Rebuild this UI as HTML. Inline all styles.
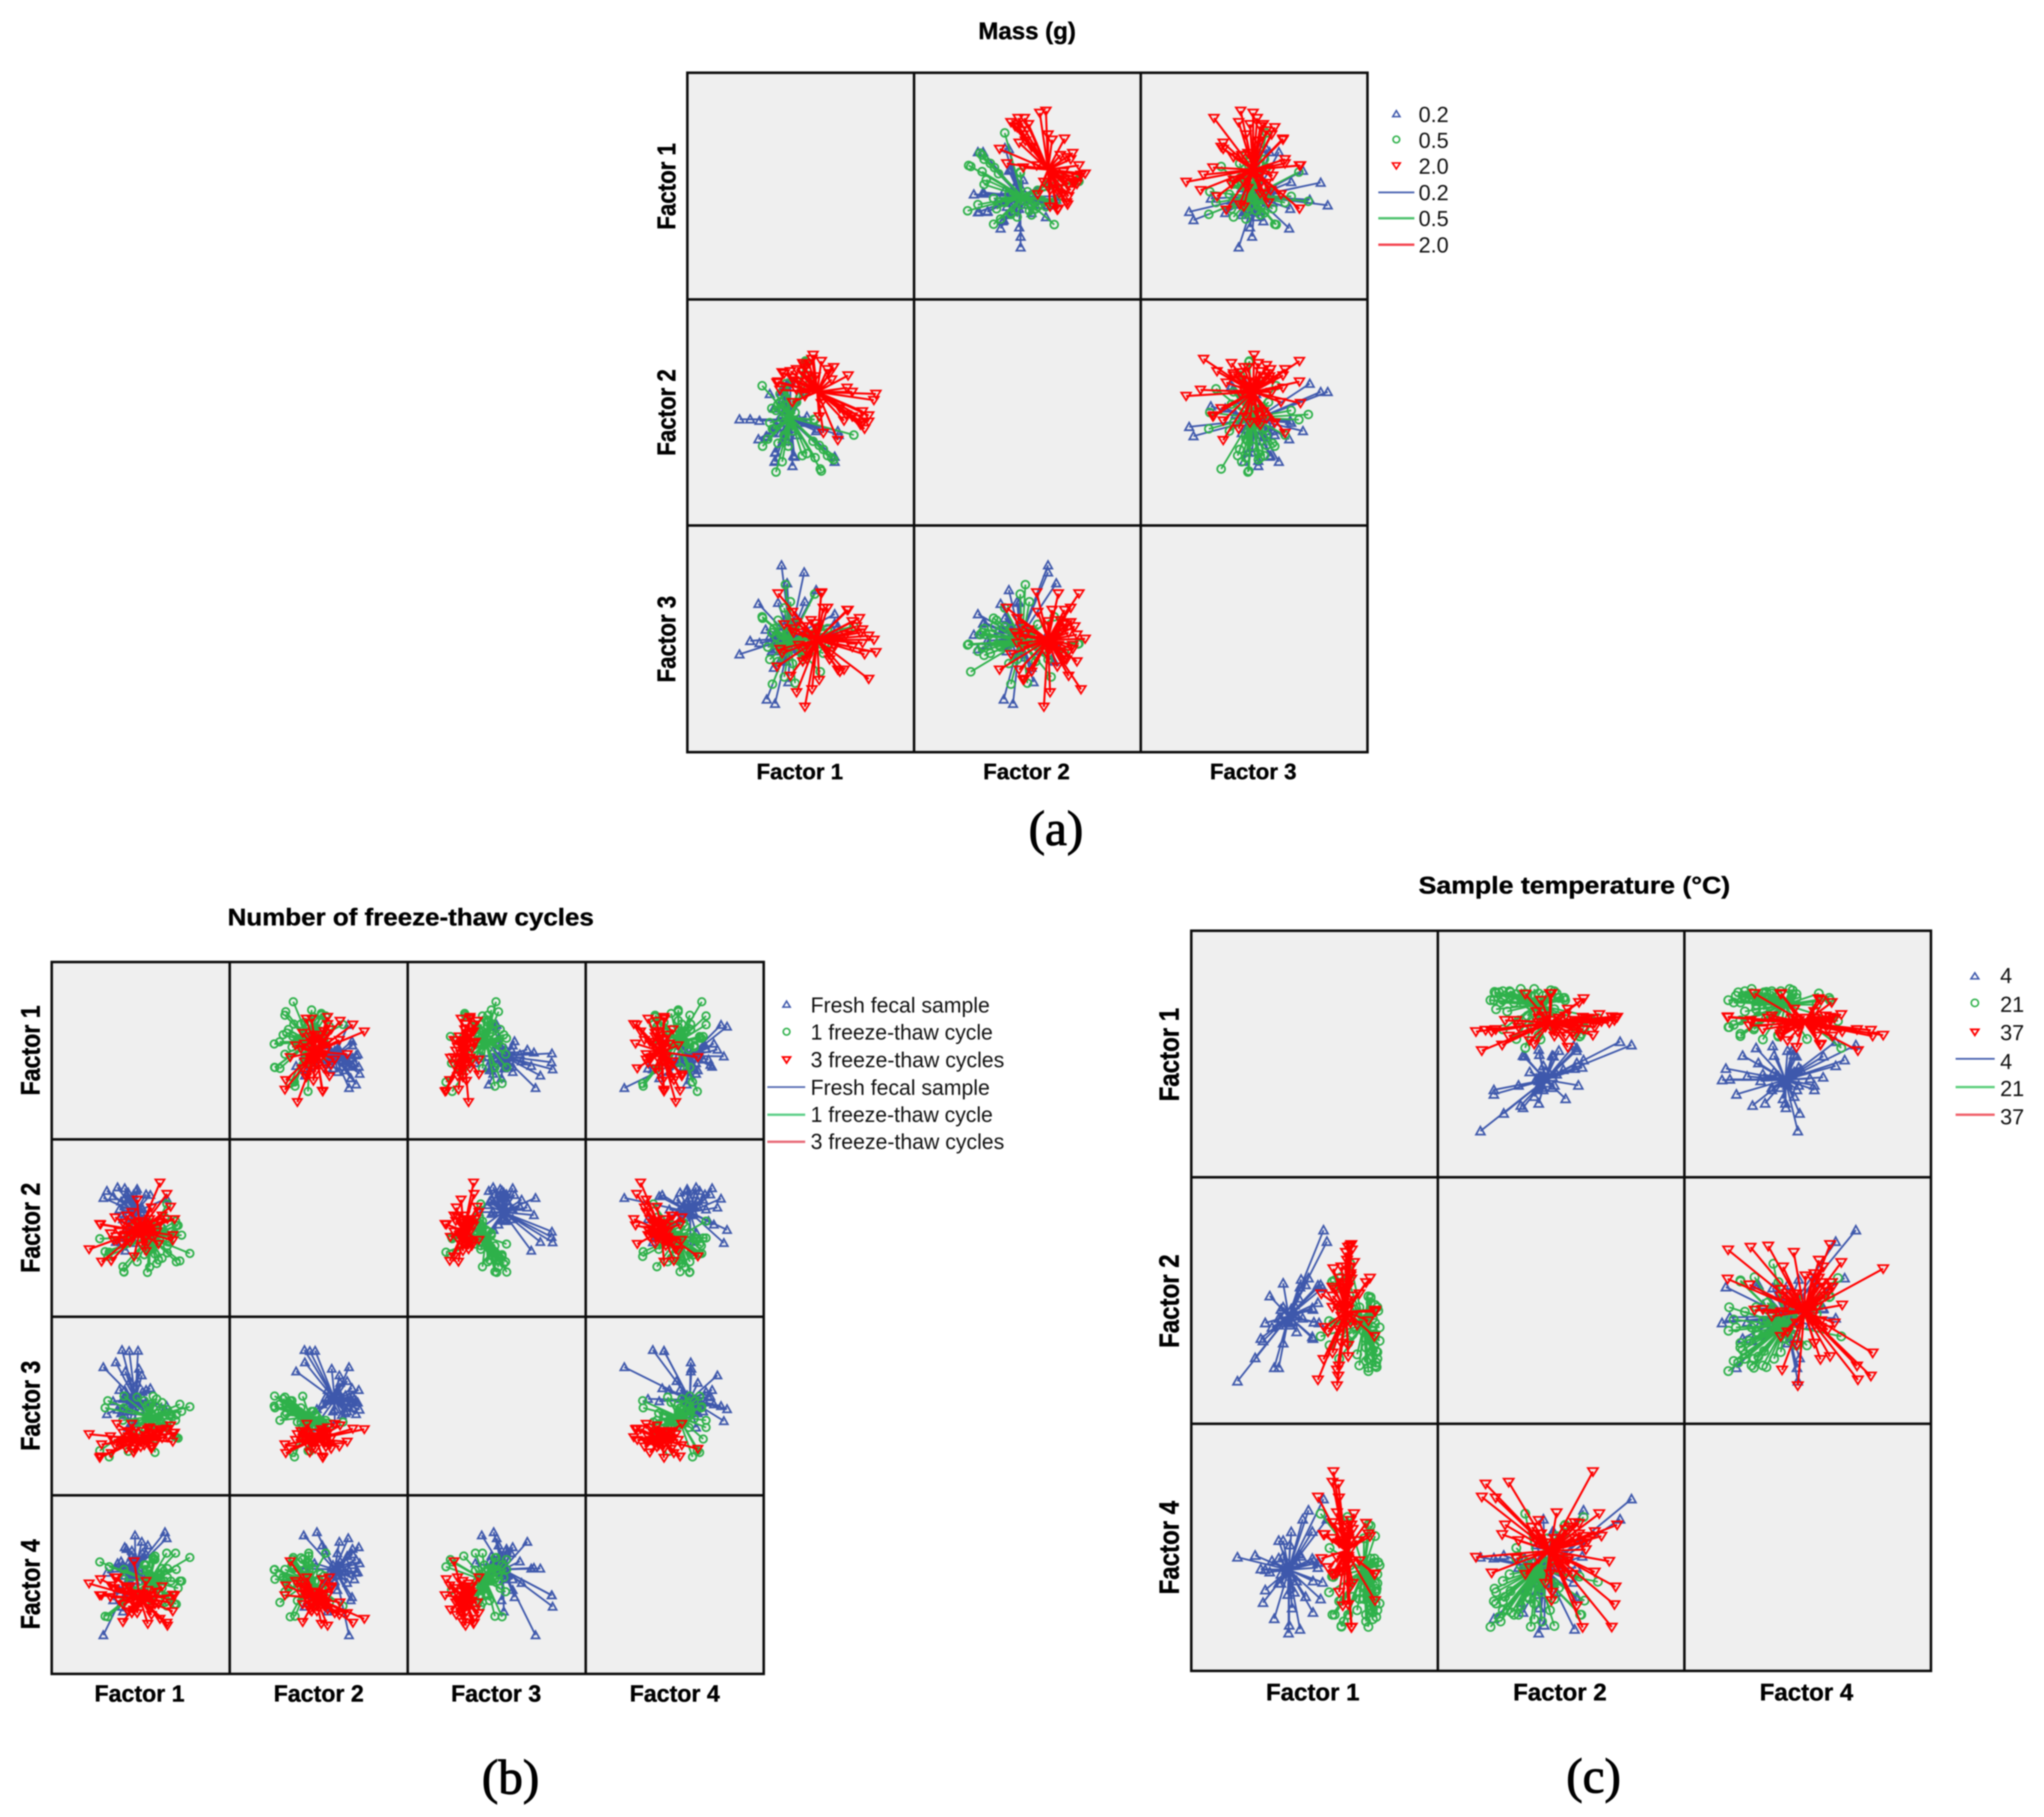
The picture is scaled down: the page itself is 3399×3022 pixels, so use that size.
<!DOCTYPE html>
<html lang="en">
<head>
<meta charset="utf-8">
<title>Factor score scatter matrices</title>
<style>
html,body{margin:0;padding:0;background:#fff;}
svg{display:block;filter:blur(1px);}
text{font-family:"Liberation Sans",sans-serif;fill:#000;}
.t{font-weight:bold;font-size:40px;text-anchor:middle;stroke:#000;stroke-width:.6px;}
.ax{font-weight:bold;text-anchor:middle;stroke:#000;stroke-width:.6px;}
.lg{font-size:36px;fill:#111;}
.cap{font-family:"Liberation Serif",serif;font-size:82px;text-anchor:middle;stroke:#000;stroke-width:1.6px;}
</style>
</head>
<body>
<svg id="figure" xmlns="http://www.w3.org/2000/svg" width="3399" height="3022" viewBox="0 0 3399 3022">
<rect width="3399" height="3022" fill="#fff"/>
<g id="panelA"></g>
<g id="panelB"></g>
<g id="panelC"></g>

<text class="t" x="1708" y="65">Mass (g)</text>
<text class="t" x="683" y="1539" textLength="609" lengthAdjust="spacingAndGlyphs">Number of freeze-thaw cycles</text>
<text class="t" x="2618" y="1486" textLength="518" lengthAdjust="spacingAndGlyphs">Sample temperature (°C)</text>

<g style="font-size:37px">
<text class="ax" x="1330" y="1296">Factor 1</text>
<text class="ax" x="1707" y="1296">Factor 2</text>
<text class="ax" x="2084" y="1296">Factor 3</text>
</g>
<g style="font-size:37px">
<text class="ax" transform="translate(1123,310) rotate(-90) scale(1,1.15)">Factor 1</text>
<text class="ax" transform="translate(1123,686) rotate(-90) scale(1,1.15)">Factor 2</text>
<text class="ax" transform="translate(1123,1063) rotate(-90) scale(1,1.15)">Factor 3</text>
</g>

<g style="font-size:38.5px">
<text class="ax" x="232" y="2830">Factor 1</text>
<text class="ax" x="530" y="2830">Factor 2</text>
<text class="ax" x="825" y="2830">Factor 3</text>
<text class="ax" x="1122" y="2830">Factor 4</text>
</g>
<g style="font-size:38.5px">
<text class="ax" transform="translate(66,1747) rotate(-90) scale(1,1.15)">Factor 1</text>
<text class="ax" transform="translate(66,2042) rotate(-90) scale(1,1.15)">Factor 2</text>
<text class="ax" transform="translate(66,2338) rotate(-90) scale(1,1.15)">Factor 3</text>
<text class="ax" transform="translate(66,2635) rotate(-90) scale(1,1.15)">Factor 4</text>
</g>

<g style="font-size:40px">
<text class="ax" x="2183" y="2828">Factor 1</text>
<text class="ax" x="2594" y="2828">Factor 2</text>
<text class="ax" x="3004" y="2828">Factor 4</text>
</g>
<g style="font-size:40px">
<text class="ax" transform="translate(1960,1754) rotate(-90) scale(1,1.15)">Factor 1</text>
<text class="ax" transform="translate(1960,2164) rotate(-90) scale(1,1.15)">Factor 2</text>
<text class="ax" transform="translate(1960,2574) rotate(-90) scale(1,1.15)">Factor 4</text>
</g>

<g>
<text class="lg" x="2359" y="203">0.2</text>
<text class="lg" x="2359" y="246">0.5</text>
<text class="lg" x="2359" y="289">2.0</text>
<text class="lg" x="2359" y="333">0.2</text>
<text class="lg" x="2359" y="376">0.5</text>
<text class="lg" x="2359" y="420">2.0</text>
<path d="M2322 184l6 10h-12z" fill="none" stroke="#3e58ac" stroke-width="2.6"/>
<circle cx="2322" cy="232" r="5.5" fill="none" stroke="#2eb14a" stroke-width="2.6"/>
<path d="M2322 281l-6.500 -10h13z" fill="none" stroke="#f00" stroke-width="2.600"/>
<line x1="2292" x2="2352" y1="320" y2="320" stroke="#4a63b0" stroke-width="3"/>
<line x1="2292" x2="2352" y1="363" y2="363" stroke="#4fc36e" stroke-width="4"/>
<line x1="2292" x2="2352" y1="407" y2="407" stroke="#f4454f" stroke-width="4"/>
</g>

<g>
<text class="lg" x="1348" y="1684" textLength="298" lengthAdjust="spacingAndGlyphs">Fresh fecal sample</text>
<text class="lg" x="1348" y="1729" textLength="303" lengthAdjust="spacingAndGlyphs">1 freeze-thaw cycle</text>
<text class="lg" x="1348" y="1775" textLength="322" lengthAdjust="spacingAndGlyphs">3 freeze-thaw cycles</text>
<text class="lg" x="1348" y="1821" textLength="298" lengthAdjust="spacingAndGlyphs">Fresh fecal sample</text>
<text class="lg" x="1348" y="1866" textLength="303" lengthAdjust="spacingAndGlyphs">1 freeze-thaw cycle</text>
<text class="lg" x="1348" y="1911" textLength="322" lengthAdjust="spacingAndGlyphs">3 freeze-thaw cycles</text>
<path d="M1308 1665l6 10h-12z" fill="none" stroke="#3e58ac" stroke-width="2.6"/>
<circle cx="1308" cy="1716" r="5.5" fill="none" stroke="#2eb14a" stroke-width="2.6"/>
<path d="M1308 1768l-6.500 -10h13z" fill="none" stroke="#f00" stroke-width="3"/>
<line x1="1276" x2="1339" y1="1808" y2="1808" stroke="#5a6fb5" stroke-width="3"/>
<line x1="1276" x2="1339" y1="1854" y2="1854" stroke="#5fd08a" stroke-width="4"/>
<line x1="1276" x2="1339" y1="1899" y2="1899" stroke="#e86a78" stroke-width="4"/>
</g>

<g>
<text class="lg" x="3326" y="1635">4</text>
<text class="lg" x="3326" y="1683">21</text>
<text class="lg" x="3326" y="1730">37</text>
<text class="lg" x="3326" y="1778">4</text>
<text class="lg" x="3326" y="1823">21</text>
<text class="lg" x="3326" y="1870">37</text>
<path d="M3284 1618l6.500 10h-13z" fill="none" stroke="#3e58ac" stroke-width="2.6"/>
<circle cx="3284" cy="1668" r="6" fill="none" stroke="#2eb14a" stroke-width="2.6"/>
<path d="M3284 1722l-6.500 -10h13z" fill="none" stroke="#f00" stroke-width="3"/>
<line x1="3252" x2="3317" y1="1761" y2="1761" stroke="#4a63b0" stroke-width="3"/>
<line x1="3252" x2="3317" y1="1808" y2="1808" stroke="#5fd07e" stroke-width="4"/>
<line x1="3252" x2="3317" y1="1854" y2="1854" stroke="#f0606a" stroke-width="4"/>
</g>

<text class="cap" x="1756" y="1405">(a)</text>
<text class="cap" x="849" y="2983">(b)</text>
<text class="cap" x="2650" y="2981">(c)</text>
</svg>

<script>
// Mass (g): factor scores per sample, columns Factor 1, Factor 2, Factor 3
const massBlue=[[-2.97,-.33,-.75],[-2.45,-.33,-.1],[-2.05,-1.3,1.7],[-1.7,-1.2,.45],[-1.65,-1.15,-2.94],[-1.25,-.7,-3.15],[-.93,1,3.57],[.17,1,3.23],[-.66,1.4,2.7],[.75,-.9,2.37],[1.65,-2.4,1.2],[1.65,-2.15,.75],[1.85,-1.09,.3],[-2,-.4,-.2],[-1.25,-2.35,.2],[-1.25,-1.95,-.1],[-.4,-2.6,.2],[-.3,-2.15,.75],[.8,-.8,.2],[1.8,-.9,.6],[-.5,1.55,-.5],[-.9,1.17,-1],[-1.22,-1.93,-.3],[-1.27,-2.4,-.5],[-.36,-2.1,.8],[-.6,.3,-2.1],[.2,-.5,1.8],[-.8,-.9,.9],[-1.1,-.4,1.75],[-.2,-1.1,1],[-.9,.6,-.6],[-1.3,.2,-1.4],[.3,-.2,.4],[-1.5,.9,.1],[-.7,1.3,-1.1],[-1,-1,-.3],[-.8,-.5,.6],[-.3,-.8,-.4],[-1.2,-.6,.3],[-.6,-1.4,.4],[-1.4,-1,-.6],[-.9,-.1,-.9],[-.1,-.3,-.6]];
const massGreen=[[2.58,-1.1,.6],[-1.87,1.3,1.07],[.23,2.5,-.23],[.95,-2.75,-1.6],[1,-2.85,-.26],[.68,-.35,2.17],[-1.85,-1.64,1],[-.74,-.1,2.63],[-1.37,-.8,-2.2],[-.27,0,-2.15],[-.8,1.15,-1.85],[-1.2,-2.9,-.3],[-.9,-2.4,-.6],[.3,2.46,-.25],[.7,-2.2,.3],[.64,-.34,0],[.3,-2,.2],[-.6,-1.64,-.1],[.08,-2.1,-.8],[-1.5,-.5,-1],[-1.1,.4,-1.1],[-.2,.5,.7],[-1.3,-.8,.5],[-.8,-1.1,1.5],[-1,.9,-.5],[-.4,-.9,-1.2],[-1.4,.2,.3],[.1,1,-1],[-.7,1.4,.2],[.4,1.8,-.67],[-.5,.1,1.8],[-1.6,-1.3,-.4],[-1.1,-1.5,.9],[1.6,-2.3,.2],[1.5,-2.2,-.4],[1.3,-2.1,.5],[1.1,-1.8,-.7],[.9,-1.6,.6],[.6,-1.4,-.3],[-.9,.2,.4],[-1,.5,-.2],[-.7,.7,-.6],[-1.2,.1,.1],[-.9,-.3,-.5],[-.6,-.4,.3]];
const massRed=[[3.65,.9,-.65],[3.55,.6,-.05],[3.3,-.15,-1.95],[3.3,-.45,.15],[3.1,-.8,-.75],[3,.05,.45],[2.85,-.5,1],[2.3,1.8,1.4],[2.1,-.4,-1.5],[1.8,-1.35,-1.5],[1.3,2.1,1.5],[1,2.5,2.2],[.55,2.6,-2.45],[.6,2.8,0],[.2,.8,-3.3],[.15,2.3,.6],[-.35,1.55,.3],[-1.1,1.5,2.2],[-.2,1.1,-2.6],[1,.45,2.25],[-.9,1.95,-.7],[-1.15,1.45,-1.35],[-.8,1.9,.7],[1.4,1.9,-1],[2.5,1,.85],[2.25,1.2,1.4],[1.5,1.6,-.6],[1.9,.2,-1.6],[1.1,-1,1.5],[.9,-.2,-2],[-.4,.5,1.3],[.1,2.4,-1.1],[1.6,2.2,-.3],[-1,1.1,-.5],[.7,1.75,.75],[-.5,2,-1.8],[.2,2.2,-.5],[.1,2,.3],[-.2,2.1,.8],[.3,1.8,-1],[-.4,1.7,.5],[.4,2.4,.2],[-.1,1.5,-.3],[.5,1.6,.9],[3,-.5,-.2],[2.9,-.6,.3],[2.7,-.3,.6],[2.5,-.2,-.4],[2.2,-.1,.2]];
const massCentroids=[[-.5,-.35,.05],[-.5,-.25,-.1],[.8,1,-.05]];

// Number of freeze-thaw cycles: columns Factor 1, Factor 2, Factor 3, Factor 4
const freezeBlue=[[-2.1,1.7,2.18,-2.83],[1.36,-.1,-.17,2.94],[1.46,1.66,0,2.6],[-.32,-.84,-.84,2.76],[-1.05,-.8,3.14,-1.23],[-.65,-.5,3.08,-.6],[-.15,-.2,3.1,-.6],[-1.4,-.78,2.45,.9],[-.86,-1.27,1.94,.9],[-.1,.73,2.09,.94],[.54,1.87,1,-.7],[-1.55,1.8,.27,-.87],[-1.9,2.1,-.45,.67],[-.26,2.1,.3,1.4],[-.8,1.9,.55,2],[.1,1.05,.8,1.76],[.06,1.16,1.72,2.4],[-.7,-.24,-1.2,1.2],[-.3,.9,-1,.2],[-1,.5,.4,-1.5],[-.4,1.5,.6,.7],[-1,.8,-.3,1.1],[.3,.5,.9,.3],[-.9,1.3,-.5,.5],[-.2,1.2,1.3,1.3],[.4,.2,.1,2.2],[-1.2,1.05,.9,-.3],[-.6,1.6,1.4,.1],[.3,1.9,.2,1.7],[-.5,.4,.5,1.9],[-1.3,2.3,-.2,1.2],[-.9,2.25,.9,2.1],[-.7,2,.4,.3],[-.4,1.9,-.1,1.1],[-.9,1.7,.5,.8],[-.2,2.2,.2,.7],[-.5,1.6,-.3,1.6],[-1.1,1.5,-.4,1.3],[-.4,1.2,.4,1],[0,.9,-.2,.8],[-.6,.6,.3,.6],[.1,1.1,.5,.5]];
const freezeGreen=[[2.76,-1.43,-.04,1.52],[-.95,-2.46,-.1,.3],[2.2,-1.85,.1,.2],[2,.15,-1.76,-1.1],[-1.85,-1.6,.3,-1.8],[-1.77,-1.36,-2.85,1],[-2.3,-.6,-2.5,1.27],[.38,-2.5,0,.83],[-.94,-2.48,.56,.85],[1.47,1.36,-.9,-1.2],[1.96,.39,-.8,1.76],[.7,-.9,.55,1.4],[1.7,-.2,-.45,.2],[1.36,.6,-1.2,-1],[1.9,-.3,-1.7,-1.1],[-.7,-.5,-2.54,-.3],[.8,-.56,-1.85,1.6],[1.46,-.56,-1.2,1.76],[.8,-1.46,-2.6,1.4],[2,-1.9,-.5,.85],[-1,-2.18,-.8,-1],[2.3,-.4,-.3,.2],[2.1,.15,-1.8,-.2],[-2,-1.33,-.1,-1.77],[.5,.3,-1,.5],[.9,-.8,-.8,-.3],[1.2,-.3,-.3,.9],[.1,-.9,-1.2,.8],[-.3,.2,-.9,-.6],[.6,-1.2,-.4,-.9],[1.5,-1,-.9,.4],[1,-.1,-.6,-.5],[.3,-.5,-.7,1.1],[.9,-2,.4,.4],[1.2,-1.7,.2,-.2],[.5,-2.2,.1,.6],[.2,-1.5,.3,1.1],[-.2,-1.9,.5,-.4],[1.5,-1.4,-.2,.9],[.7,-1,-.1,1.5],[1,-1.8,-.4,.3],[.4,-1.2,-.9,.1],[.8,-.5,-1,.4],[1.3,-.2,-1.1,.2],[.1,0,-1.2,-.4],[.6,.2,-1.1,-.2],[1.6,-.8,-.5,-.6],[1.1,.1,-.8,.6],[.7,-.3,-.9,-.1]];
const freezeRed=[[-2.9,-1.2,-1.58,.06],[-2.3,.23,-2.9,-.6],[1.08,2.56,-1.3,-1.92],[1.47,1.92,-1.27,-2.14],[1.9,.5,-1.5,-.6],[-1.34,-.67,-1,.4],[-2.2,-1.9,-2.15,-.6],[.6,1.16,-2.27,-1.7],[1.8,-.7,-1.5,-.57],[1.8,-.4,-2,-1.5],[-.37,-1.6,-2.4,1.3],[.4,.15,-1.3,-2.2],[1.5,.5,-1.75,-2.3],[-.5,.9,-1,-1.6],[-1.66,-1.85,-2.64,-.05],[-1,-.9,-1.9,-2.1],[-2.26,.2,-2.83,.3],[-1.44,.6,-2.2,.4],[.6,-.2,-2.4,-.6],[1.68,1.2,-1.09,-1],[.3,-1.3,-1.9,.2],[-.6,-.8,-1.4,-.1],[.8,-.4,-2.1,-1.1],[-.2,1.6,-2,-1.6],[1.2,.7,-1.8,-.1],[-1,.3,-1.5,-1.1],[-.4,-.5,-2.6,-1.4],[.5,.5,-1.2,-1.4],[-1.7,-.3,-1.7,-.7],[.1,-1,-1.4,-.5],[-.8,.7,-2.4,-.2],[1,-.9,-1.6,-1.1],[-.5,-.4,-1.9,-.9],[.3,-.1,-1.7,-.6],[-.2,.3,-2,-1.2],[.7,.2,-1.6,-.8],[-.9,-.5,-2,-.4],[.2,-.6,-2.2,-.9],[-.4,.1,-1.5,-.5],[.5,-.3,-1.9,-1.3],[-1.2,-.2,-2.1,-.9],[1.1,.3,-1.4,-.9],[-.7,-.1,-1.7,-1.5],[0,.4,-2.3,-1],[.4,-.8,-1.8,-.3],[-.1,-.3,-1.8,-.6],[-1.5,-.7,-1.9,-.2],[.9,-.2,-1.5,-.4]];
const freezeCentroids=[[-.3,.9,.35,.85],[.5,-.5,-.6,.2],[-.05,-.15,-1.85,-.75]];

// Sample temperature (°C): columns Factor 1, Factor 2, Factor 4
const tempBlue=[[.4,3.14,2.15],[.55,2.63,1.25],[-3.44,-3.6,-.44],[-1.8,-3,-3.18],[-1.16,-1,-3.82],[-.65,.6,-3.65],[-1.13,-.75,-3.47],[-.27,1,1.65],[-.53,-.79,1.25],[-1.04,-.38,.69],[-2.65,-2.56,-.36],[-1.6,-3,-.48],[-2.4,-1.7,-.97],[.15,-.1,-.68],[.36,.56,-1.56],[-.07,-.4,-1.5],[-.4,.7,-2.2],[-2.3,-1.8,-2.46],[-2.2,-1,-1.9],[-1,-.97,-2.7],[.27,.7,-2.3],[-.03,-.97,-.6],[.2,-1,-.67],[-1.4,.77,.3],[-.6,.94,-.4],[.15,.68,-.9],[-.1,-1.62,-.5],[-.1,-.34,.7],[-2.2,-1,-1],[-1.5,-.4,-1.6],[-1.9,-1.2,-.6],[-.8,-1.4,-1.5],[-1.4,-1.9,-.9],[-.7,.1,-.3],[-1.1,-1.1,.1],[-2,.2,-1.1],[-.9,-.2,-2],[-1.6,-.8,.3],[-.07,-1.7,-2.9],[-1.3,-.6,-.9],[-1,-.9,-1.3],[-1.5,-.8,-1.2],[-.9,-.5,-.7],[-1.2,-1,-2.1],[-.8,-.7,-.6],[-1.4,-.3,-.4],[-1.6,-1.1,-1.6]];
const tempGreen=[[2.84,-.46,-.67],[.27,-1.6,1.5],[2.4,-3.15,-3.54],[2.75,-2.77,-3.1],[2.75,-2.26,-1.95],[2.67,-1.5,-.67],[2.4,.18,1],[.78,.82,-1.3],[.65,-.92,-2],[2.5,.1,-.5],[1.47,1,1.35],[.8,.85,-3],[1.2,-1.35,-3.53],[2.8,-.3,-1.6],[2.72,-2.9,-2.5],[2.6,-1.37,-.9],[1.2,-.3,-3.5],[1.3,-.85,-3.3],[2.5,.15,.96],[.9,.9,-3],[2.67,-2,-.5],[2.77,-2.97,-1.84],[1.18,1.04,-2.37],[1.6,1.64,-1.53],[.84,-1,-1.32],[.67,-2,-.03],[1.7,-1.5,-2.2],[2.2,-.9,-1.8],[1.9,-2.4,-2.8],[2.4,-2.6,-1.5],[1.5,-1.9,-3],[2.9,-1.2,-2.5],[2,-.3,-2.3],[2.6,-2.2,-2.9],[1.6,-.8,-.8],[1.1,-2.6,-2.4],[2.3,-1.7,-1],[2,-2.9,-2],[2.7,-1,-1.6],[2.6,-2.5,-2.2],[2.5,-1.8,-2.6],[2.8,-2.3,-1.2],[2.4,-3,-2.4],[2.6,-.8,-1.3],[2.7,-1.6,-2],[2.3,-2.1,-3],[2.5,-.5,-2.8],[2.9,-1.8,-.8],[2.3,-2.7,-3.3],[2.5,-.1,-1.8],[2.2,-.6,.4],[2.7,-.2,.5],[2.6,-1.2,-3.2],[2.8,-2.6,-2.8],[2.2,-1.4,-2.3]];
const tempRed=[[.84,1.42,3.37],[.8,-2.34,2.9],[1.06,-3.37,2.82],[.15,-3.54,2.24],[1.09,-2.92,2.2],[1.76,1.7,1.5],[1.64,2.5,1],[1,-3.8,-.44],[1,-3.1,-1.14],[.4,-2.63,.57],[2.67,-1.6,-1.2],[2.7,-.5,-1.18],[2.3,.8,1.07],[2.47,1,.49],[2.7,-.43,-2.37],[1.66,2.26,-3.55],[1.5,2.38,-2.55],[1.6,2.43,-1.76],[1.4,2.15,-.62],[1.64,.96,-3.57],[1.45,1.8,.5],[1.3,.8,.6],[2,.3,-.6],[.8,-.3,.4],[1.1,-1.3,.9],[1.9,-1.1,.3],[.9,.5,-1.2],[1.7,-.7,-1.6],[1.2,-1.9,.3],[1.6,1.1,-.1],[1.1,1,.2],[1.5,-2,-.5],[1.2,1.5,-1.1],[2.4,-.9,.6],[1.1,-.4,-2],[.3,.3,-.5],[1.6,-1,1.2],[.8,.6,1.1],[1.5,-2.5,1],[.6,-1.4,-.9],[1.26,.7,-2.6],[.8,.2,-1.2],[1,-.2,1.54],[.44,-1.2,.57],[1.4,-1,-.5],[1.5,.6,.4],[1.3,-.2,-.9],[1.6,1.2,.3],[1.2,-.7,.2],[1.7,.2,.8],[1.5,-.4,-.4],[1.4,1.5,.7],[1.6,-.1,-.7],[1.3,.4,.9]];
const tempCentroids=[[-1.15,-.7,-1],[2.2,-1.1,-1],[1.4,-.5,-.15]];

const seriesColors=['#3e58ac','#2eb14a','#ff0000'];
const seriesShapes=['up','circle','down'];
const SVGNS='http://www.w3.org/2000/svg';

// Layout of each matrix (not data)
const layoutA={id:'panelA',xEdges:[1143,1520,1897,2274],yEdges:[121,498,874,1251],domain:5.5,marker:1};
const layoutB={id:'panelB',xEdges:[86,382,678,974,1270],yEdges:[1600,1895,2190,2487,2784],domain:5,marker:.95};
const layoutC={id:'panelC',xEdges:[1981,2391,2801,3211],yEdges:[1548,1958,2368,2779],domain:5.5,marker:1.05};

function scale(v,lo,hi,domain){return lo+(v+domain)/(2*domain)*(hi-lo);}

function drawMatrix(layout,seriesList,centroids){
  const root=document.getElementById(layout.id);
  const nx=layout.xEdges.length-1, ny=layout.yEdges.length-1;
  const left=layout.xEdges[0],right=layout.xEdges[nx],top=layout.yEdges[0],bottom=layout.yEdges[ny];
  const bg=document.createElementNS(SVGNS,'rect');
  
  
  bg.setAttribute('x',left);bg.setAttribute('y',top);
  bg.setAttribute('width',right-left);bg.setAttribute('height',bottom-top);
  bg.setAttribute('fill','#efefef');
  root.appendChild(bg);
  for(let r=0;r<ny;r++){
    for(let c=0;c<nx;c++){
      if(r===c)continue;
      const fx=v=>scale(v,layout.xEdges[c],layout.xEdges[c+1],layout.domain);
      const fy=v=>scale(v,layout.yEdges[r+1],layout.yEdges[r],layout.domain);
      seriesList.forEach((rows,s)=>{
        const color=seriesColors[s];
        const hx=fx(centroids[s][c]),hy=fy(centroids[s][r]);
        rows.forEach(row=>{
          const px=fx(row[c]),py=fy(row[r]);
          const line=document.createElementNS(SVGNS,'line');
          
          
          line.setAttribute('x1',hx.toFixed(1));line.setAttribute('y1',hy.toFixed(1));
          line.setAttribute('x2',px.toFixed(1));line.setAttribute('y2',py.toFixed(1));
          line.setAttribute('stroke',color);
          line.setAttribute('stroke-width',s===2?3.4:3);
          root.appendChild(line);
        });
        rows.forEach(row=>{
          const px=fx(row[c]),py=fy(row[r]);
          const k=layout.marker;
          let m;
          if(seriesShapes[s]==='circle'){
            m=document.createElementNS(SVGNS,'circle');
            m.setAttribute('cx',px.toFixed(1));m.setAttribute('cy',py.toFixed(1));
            m.setAttribute('r',(6.5*k).toFixed(1));
          }else{
            m=document.createElementNS(SVGNS,'polygon');
            const d=seriesShapes[s]==='up'?1:-1;
            const w=(seriesShapes[s]==='up'?7:8)*k,h=7*k;
            m.setAttribute('points',[px,py-d*h,px+w,py+d*h*.8,px-w,py+d*h*.8].map((v,i)=>v.toFixed(1)+(i%2?' ':',')).join(''));
          }
          
          
          m.setAttribute('fill','none');
          m.setAttribute('stroke',color);
          m.setAttribute('stroke-width','2.9');
          root.appendChild(m);
        });
      });
    }
  }
  layout.xEdges.forEach(x=>{
    const l=document.createElementNS(SVGNS,'line');
    
    
    l.setAttribute('x1',x);l.setAttribute('x2',x);l.setAttribute('y1',top-2);l.setAttribute('y2',bottom+2);
    l.setAttribute('stroke','#0c0c0c');l.setAttribute('stroke-width','4.2');
    root.appendChild(l);
  });
  layout.yEdges.forEach(y=>{
    const l=document.createElementNS(SVGNS,'line');
    
    
    l.setAttribute('y1',y);l.setAttribute('y2',y);l.setAttribute('x1',left-2);l.setAttribute('x2',right+2);
    l.setAttribute('stroke','#0c0c0c');l.setAttribute('stroke-width','4.2');
    root.appendChild(l);
  });
}

drawMatrix(layoutA,[massBlue,massGreen,massRed],massCentroids);
drawMatrix(layoutB,[freezeBlue,freezeGreen,freezeRed],freezeCentroids);
drawMatrix(layoutC,[tempBlue,tempGreen,tempRed],tempCentroids);
</script>
</body>
</html>
